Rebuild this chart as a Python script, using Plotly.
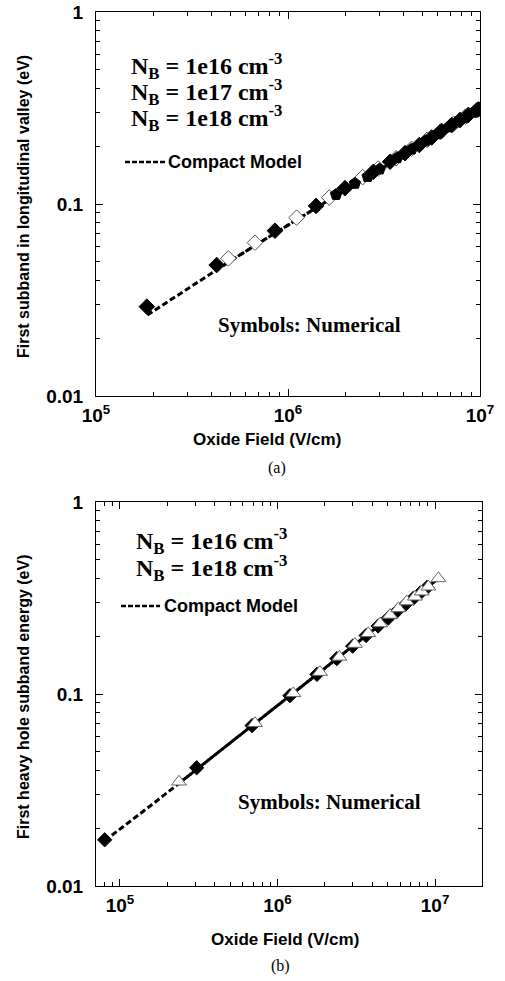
import plotly.graph_objects as go

# ---------------- data: panel (a) ----------------
a_nb16_x = [1.84e5, 4.25e5, 8.55e5, 1.40e6, 1.98e6, 2.78e6, 3.40e6, 4.07e6, 4.83e6, 5.60e6, 6.31e6, 7.12e6, 7.87e6, 8.69e6, 9.80e6]
a_nb16_y = [0.0292, 0.0481, 0.0726, 0.0977, 0.121, 0.147, 0.166, 0.184, 0.203, 0.222, 0.240, 0.258, 0.274, 0.291, 0.311]
a_nb17_x = [4.89e5, 6.73e5, 1.109e6, 1.64e6, 2.45e6, 2.95e6, 3.65e6, 4.4e6, 5.3e6, 6.2e6, 7.3e6, 8.4e6, 9.6e6]
a_nb17_y = [0.0521, 0.0629, 0.0849, 0.108, 0.138, 0.153, 0.173, 0.194, 0.216, 0.238, 0.262, 0.285, 0.308]
a_nb18_x = [1.78e6, 2.23e6, 2.6e6, 3.0e6, 3.7e6, 4.4e6, 5.2e6, 6.0e6, 6.9e6, 7.6e6, 8.3e6, 9.2e6, 1.0e7]
a_nb18_y = [0.112, 0.128, 0.139, 0.152, 0.174, 0.193, 0.213, 0.232, 0.252, 0.267, 0.281, 0.300, 0.315]
a_model1_x = [1.85e5, 2.5e5, 3.5e5, 5e5, 7e5, 1e6, 1.5e6, 2e6, 3e6, 4e6, 5.5e6, 7e6, 8.5e6, 1e7]
a_model1_y = [0.0264, 0.0322, 0.0401, 0.0504, 0.0623, 0.0778, 0.0996, 0.1184, 0.151, 0.1795, 0.2165, 0.2497, 0.280, 0.308]
a_model2_x = [4.25e5, 5e5, 7e5, 1e6, 1.5e6, 2e6, 3e6, 4e6, 5.5e6, 7e6, 8.5e6, 1e7]
a_model2_y = [0.0460, 0.0504, 0.0623, 0.0778, 0.0996, 0.1184, 0.151, 0.1795, 0.2165, 0.2497, 0.280, 0.308]

# ---------------- data: panel (b) ----------------
b_nb16_x = [8.0e4, 3.07e5, 6.9e5, 1.2e6, 1.78e6, 2.38e6, 3.0e6, 3.65e6, 4.35e6, 5.05e6, 5.7e6, 6.45e6, 7.3e6, 8.05e6, 8.9e6]
b_nb16_y = [0.0174, 0.0413, 0.0685, 0.098, 0.1266, 0.1529, 0.1775, 0.2017, 0.226, 0.2487, 0.269, 0.2914, 0.3158, 0.336, 0.359]
b_nb18_x = [2.37e5, 7.2e5, 1.26e6, 1.86e6, 2.47e6, 3.10e6, 3.77e6, 4.48e6, 5.18e6, 5.85e6, 6.61e6, 7.46e6, 8.23e6, 9.07e6, 1.05e7]
b_nb18_y = [0.0349, 0.0704, 0.1008, 0.130, 0.156, 0.182, 0.207, 0.233, 0.258, 0.279, 0.303, 0.321, 0.341, 0.362, 0.40]
b_model1_x = [8.0e4, 1.2e5, 1.6e5, 2.4e5, 3.5e5, 5e5, 7e5, 1e6, 1.5e6, 2e6, 3e6, 4e6, 5.5e6, 7e6, 8.5e6, 1.02e7]
b_model1_y = [0.0172, 0.02205, 0.02657, 0.03454, 0.04413, 0.0556, 0.0691, 0.0871, 0.1133, 0.1365, 0.1775, 0.2139, 0.263, 0.3074, 0.3486, 0.392]
b_model2_x = [2.4e5, 3.5e5, 5e5, 7e5, 1e6, 1.5e6, 2e6, 3e6, 4e6, 5.5e6, 7e6, 8.5e6, 1.02e7]
b_model2_y = [0.03454, 0.04413, 0.0556, 0.0691, 0.0871, 0.1133, 0.1365, 0.1775, 0.2139, 0.263, 0.3074, 0.3486, 0.392]

x_major = [1e5, 1e6, 1e7]
x_major_text = ["<b>10<sup>5</sup></b>", "<b>10<sup>6</sup></b>", "<b>10<sup>7</sup></b>"]
y_major = [0.01, 0.1, 1]
y_major_text = ["<b>0.01</b>", "<b>0.1</b>", "<b>1</b>"]

W, H = 505, 981
SANS = "Liberation Sans, Arial, sans-serif"
SERIF = "Liberation Serif, Times New Roman, serif"

def minors(lo_exp, hi_exp):
    vals = []
    for e in range(lo_exp, hi_exp + 1):
        for m in range(2, 10):
            vals.append(m * 10 ** e)
    return vals

fig = go.Figure()

def px_x(p):
    return p / W

def px_y(p):
    return 1 - p / H

# panel (a)
fig.add_trace(go.Scatter(x=a_model1_x, y=a_model1_y, mode="lines", line=dict(color="black", width=3, dash="6px,3px"), xaxis="x", yaxis="y", showlegend=False))
fig.add_trace(go.Scatter(x=a_model2_x, y=a_model2_y, mode="lines", line=dict(color="black", width=3, dash="5px,4px"), xaxis="x", yaxis="y", showlegend=False))
fig.add_trace(go.Scatter(x=a_nb17_x, y=a_nb17_y, mode="markers", marker=dict(symbol="diamond", size=12, color="white", line=dict(color="#555", width=1)), xaxis="x", yaxis="y", showlegend=False))
fig.add_trace(go.Scatter(x=a_nb16_x, y=a_nb16_y, mode="markers", marker=dict(symbol="diamond", size=12, color="black", line=dict(color="black", width=1)), xaxis="x", yaxis="y", showlegend=False))
fig.add_trace(go.Scatter(x=a_nb18_x, y=a_nb18_y, mode="markers", marker=dict(symbol="pentagon", size=12, color="black", line=dict(color="black", width=1)), xaxis="x", yaxis="y", showlegend=False))

# panel (b)
fig.add_trace(go.Scatter(x=b_model1_x, y=b_model1_y, mode="lines", line=dict(color="black", width=3, dash="6px,3px"), xaxis="x2", yaxis="y2", showlegend=False))
fig.add_trace(go.Scatter(x=b_model2_x, y=b_model2_y, mode="lines", line=dict(color="black", width=3, dash="5px,4px"), xaxis="x2", yaxis="y2", showlegend=False))
fig.add_trace(go.Scatter(x=b_nb16_x, y=b_nb16_y, mode="markers", marker=dict(symbol="diamond", size=11, color="black", line=dict(color="black", width=1)), xaxis="x2", yaxis="y2", showlegend=False))
fig.add_trace(go.Scatter(x=b_nb18_x, y=b_nb18_y, mode="markers", marker=dict(symbol="triangle-up", size=13, color="white", line=dict(color="#666", width=1)), xaxis="x2", yaxis="y2", showlegend=False))

def xaxis(domain, rng, anchor):
    return dict(type="log", range=rng, domain=domain, anchor=anchor, automargin=False,
                tickmode="array", tickvals=x_major, ticktext=x_major_text,
                ticks="inside", ticklen=7, tickwidth=1, tickcolor="black",
                minor=dict(tickmode="array", tickvals=minors(4, 7), ticks="inside", ticklen=4, tickcolor="black", tickwidth=1),
                showline=True, linecolor="black", linewidth=1, mirror="ticks",
                showgrid=False, zeroline=False,
                tickfont=dict(family=SANS, size=19, color="black"), ticklabelstandoff=2)

def yaxis(domain, anchor):
    return dict(type="log", range=[-2, 0], domain=domain, anchor=anchor, automargin=False,
                tickmode="array", tickvals=y_major, ticktext=y_major_text,
                ticks="inside", ticklen=7, tickwidth=1, tickcolor="black",
                minor=dict(tickmode="array", tickvals=minors(-2, -1), ticks="inside", ticklen=4, tickcolor="black", tickwidth=1),
                showline=True, linecolor="black", linewidth=1, mirror="ticks",
                showgrid=False, zeroline=False,
                tickfont=dict(family=SANS, size=19, color="black"), ticklabelstandoff=8)

fig.update_layout(
    width=W, height=H, margin=dict(l=0, r=0, t=0, b=0, autoexpand=False),
    paper_bgcolor="white", plot_bgcolor="white",
    xaxis=xaxis([px_x(96), px_x(480)], [5, 7], "y"),
    yaxis=yaxis([px_y(396), px_y(12)], "x"),
    xaxis2=xaxis([px_x(96), px_x(482)], [4.848, 7.298], "y2"),
    yaxis2=yaxis([px_y(886), px_y(502)], "x2"),
)

annotations = []
def ann(text, x, y, size, family, xanchor="center", angle=0, bold=True):
    annotations.append(dict(text=("<b>%s</b>" % text) if bold else text, x=px_x(x), y=px_y(y), xref="paper", yref="paper",
                            xanchor=xanchor, yanchor="middle", showarrow=False, textangle=angle,
                            font=dict(family=family, size=size, color="black")))

nb = "N<sub>B</sub> = %s cm<sup>-3</sup>"
# panel (a) texts
ann(nb % "1e16", 129, 66, 24, SERIF, xanchor="left")
ann(nb % "1e17", 129, 92, 24, SERIF, xanchor="left")
ann(nb % "1e18", 129, 118, 24, SERIF, xanchor="left")
ann("Compact Model", 166, 162, 18, SANS, xanchor="left")
ann("Symbols: Numerical", 216, 325, 21, SERIF, xanchor="left")
ann("Oxide Field (V/cm)", 267, 440, 17, SANS)
ann("First subband in longitudinal valley (eV)", 23, 207, 16, SANS, angle=-90)
ann("(a)", 277, 468, 16, SERIF, bold=False)
# panel (b) texts
ann(nb % "1e16", 134, 541, 24, SERIF, xanchor="left")
ann(nb % "1e18", 134, 568, 24, SERIF, xanchor="left")
ann("Compact Model", 162, 606, 18, SANS, xanchor="left")
ann("Symbols: Numerical", 236, 802, 21, SERIF, xanchor="left")
ann("Oxide Field (V/cm)", 285, 939, 17, SANS)
ann("First heavy hole subband energy (eV)", 23, 697, 16, SANS, angle=-90)
ann("(b)", 280, 966, 16, SERIF, bold=False)
fig.update_layout(annotations=annotations)

# legend sample lines for "Compact Model"
fig.update_layout(shapes=[
    dict(type="line", xref="paper", yref="paper", x0=px_x(125), x1=px_x(165), y0=px_y(162), y1=px_y(162),
         line=dict(color="black", width=2.5, dash="5px,2px")),
    dict(type="line", xref="paper", yref="paper", x0=px_x(121), x1=px_x(160), y0=px_y(606), y1=px_y(606),
         line=dict(color="black", width=2.5, dash="5px,2px")),
])

fig.write_html("out.html", post_script="document.body.style.margin='0';document.body.style.overflow='hidden';")
